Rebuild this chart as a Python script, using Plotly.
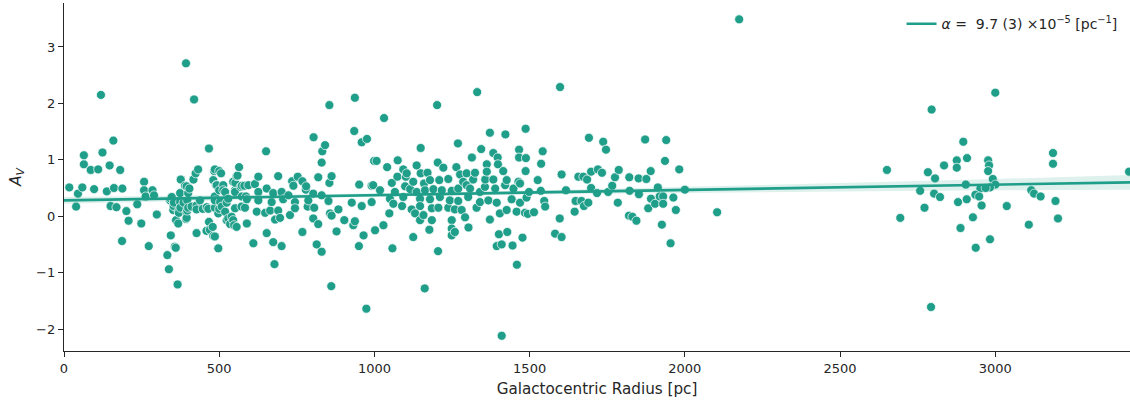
import plotly.graph_objects as go

# ---------------- data ----------------
r_inner = [17, 39, 45, 59, 64, 64, 86, 97, 110, 119, 124, 138, 147, 150, 159, 161, 169, 181, 188, 201,
           208, 187, 236, 249, 258, 258, 263, 273, 285, 290, 299, 333, 338, 342, 344, 344, 347, 352, 353, 354,
           357, 360, 361, 366, 368, 369, 370, 374, 374, 375, 376, 385, 390, 393, 393, 395, 395, 395, 397, 397,
           400, 400, 404, 411, 417, 419, 424, 427, 427, 427, 432, 438, 447, 459, 460, 465, 467, 467, 470, 479,
           481, 481, 484, 486, 486, 486, 486, 486, 490, 492, 497, 497, 500, 500, 500]
av_inner = [0.51, 0.17, 0.40, 0.51, 0.92, 1.08, 0.82, 0.48, 0.83, 2.15, 1.13, 0.44, 0.90, 0.18, 1.34, 0.50, 0.16, 0.82, 0.49, 0.09,
            -0.08, -0.44, 0.21, -0.13, 0.61, 0.46, 0.35, -0.53, 0.46, 0.37, 0.03, -0.69, -0.94, 0.28, -0.34, 0.31, 0.34, 0.11, 0.18, 0.24,
            -0.54, -0.56, -0.07, -1.21, -0.13, 0.09, 0.06, 0.41, 0.25, 0.15, 0.65, 0.24, 0.54, 2.71, -0.05, 0.53, 0.07, -0.03, 0.28, 0.10,
            0.41, 0.15, 0.49, 0.17, 0.65, 2.07, 0.76, 0.19, 0.12, -0.30, 0.83, 0.28, 0.13, -0.26, 0.16, 0.13, 1.20, -0.10, -0.24, -0.19,
            0.64, -0.35, 0.80, 0.83, 0.35, 0.15, 0.28, -0.36, 0.55, 0.55, -0.57, 0.05, 0.80, 0.46, 0.13]

r_mid1 = [503, 506, 508, 513, 513, 519, 519, 524, 524, 529, 529, 535, 540, 545, 545, 548, 551, 551, 551, 552,
          556, 556, 559, 564, 569, 572, 573, 573, 581, 583, 586, 589, 589, 594, 610, 615, 621, 626, 626, 626,
          648, 651, 653, 653, 664, 669, 674, 674, 678, 680, 690, 690, 696, 701, 701, 706, 723, 728, 735, 739,
          744, 744, 753, 768, 768, 779, 780, 785, 787, 803, 803, 804, 806, 814, 819, 819, 830, 830, 830, 832,
          841, 852, 855, 855, 857, 861, 862, 862, 878, 884, 903, 927, 932, 935, 937, 937, 950, 951, 959, 959,
          965, 974, 976, 991, 991, 996, 999]
av_mid1 = [0.25, 0.76, 0.17, 0.55, 0.46, 0.43, 0.08, 0.24, -0.07, 0.31, -0.04, -0.14, -0.01, 0.61, -0.07, -0.16, 0.46, 0.14, 0.43, 0.59,
           0.71, -0.19, 0.72, 0.87, 0.52, 0.17, 0.54, 0.35, 0.54, 0.15, 0.35, 0.30, -0.13, 0.55, -0.48, 0.57, 0.08, 0.70, 0.43, 0.28,
           0.06, 1.15, 0.49, -0.30, 0.10, 0.25, 0.41, -0.46, -0.85, -0.06, 0.71, 0.10, -0.03, 0.43, -0.53, 0.30, 0.37, 0.02, 0.62, 0.54,
           0.25, 0.14, 0.70, 0.62, -0.28, 0.47, 0.53, 0.17, 0.28, 0.40, -0.04, 1.40, 0.15, -0.50, 0.69, -0.14, 0.95, 0.37, -0.63, 1.15,
           1.26, 0.27, 1.97, 0.59, 0.05, -1.24, 0.71, 0.01, -0.27, 0.12, -0.07, 0.24, -0.16, 1.51, 2.10, -0.09, -0.53, 0.56, 1.31, 0.18,
           -0.34, -1.64, 1.37, 0.54, 0.25, 0.55, 0.98]

r_mid2 = [1002, 1007, 1018, 1031, 1029, 1041, 1048, 1050, 1056, 1058, 1061, 1066, 1074, 1075, 1089, 1093, 1093, 1099, 1101, 1104,
          1115, 1120, 1125, 1125, 1131, 1136, 1136, 1147, 1147, 1147, 1149, 1149, 1158, 1160, 1162, 1163, 1171, 1177, 1179, 1179,
          1185, 1185, 1190, 1202, 1204, 1205, 1206, 1209, 1211, 1217, 1222, 1238, 1238, 1243, 1249, 1249, 1249, 1249, 1259, 1259,
          1264, 1269, 1270, 1270, 1276, 1281, 1286, 1292, 1297, 1297, 1302, 1303, 1308, 1314, 1318, 1324, 1329, 1331, 1340, 1340,
          1344, 1356, 1357, 1362, 1362, 1367, 1372, 1372, 1383, 1383, 1389, 1394, 1394, 1397, 1398, 1401, 1404, 1410, 1410, 1415,
          1421, 1422, 1426, 1426, 1428, 1442, 1445, 1448, 1458, 1459, 1464, 1466, 1466, 1469, 1469, 1477, 1485, 1487, 1487, 1488,
          1490, 1494, 1498]
av_mid2 = [-0.25, 0.98, 0.46, 1.74, -0.16, 0.87, 0.05, 0.31, 0.59, -0.57, 0.22, 0.43, 0.70, 0.99, 0.18, 0.83, 0.34, 0.53, 0.70, 0.76,
           0.48, 0.12, 0.61, -0.37, 0.05, 0.90, 0.43, 0.31, 0.18, -0.07, 1.21, 0.76, 0.02, 0.58, -1.28, 0.46, 0.77, -0.24, 0.64, 0.30,
           0.14, -0.07, 0.48, 1.97, 0.95, -0.62, 0.15, 0.64, 0.34, 0.46, 0.86, 0.66, 0.15, 0.28, 0.45, -0.07, -0.22, -0.34, 0.12, -0.28,
           0.87, 1.29, 0.49, 0.27, 0.74, 0.11, 0.61, -0.02, 0.76, 0.55, 0.34, -0.20, 0.49, 1.04, 0.65, 0.77, 0.15, 2.20, 0.43, 0.25,
           1.19, 0.52, 0.65, 0.92, 0.79, 0.28, 1.48, -0.06, 1.12, 0.65, 0.49, 0.24, -0.53, 1.04, 0.92, -0.32, 0.05, -0.50, -2.12, 0.80,
           0.55, 1.45, 0.64, 0.11, -0.28, 0.30, -0.52, 0.49, 0.08, -0.86, 0.61, 1.18, 1.04, 0.58, 0.24, -0.38, 0.06, 1.55, 0.80, 1.03,
           0.33, 0.04, 0.43]

r_mid3 = [1514, 1526, 1536, 1537, 1542, 1547, 1550, 1582, 1597, 1598, 1603, 1603, 1617, 1645, 1648, 1657, 1667, 1673, 1675, 1685,
          1689, 1691, 1698, 1698, 1717, 1720, 1733, 1737, 1746, 1753, 1766, 1775, 1784, 1787, 1820, 1821, 1822, 1831, 1844, 1851,
          1852, 1872, 1876, 1882, 1890, 1891, 1904, 1913, 1919, 1926, 1930, 1930, 1936, 1940, 1954, 1963, 1971, 1982, 2000, 2104,
          2175]
av_mid3 = [0.07, 0.64, 0.45, 0.93, 1.15, 0.27, 0.17, -0.31, -0.04, 2.29, 0.74, -0.37, 0.46, 0.08, 0.27, 0.70, 0.27, 0.70, 0.18, 0.65,
           0.24, 1.39, 0.79, 0.50, 0.41, 0.83, 0.77, 1.32, 1.18, 0.43, 0.54, 0.69, 0.24, 0.82, 0.01, 0.69, 0.45, -0.01, -0.08, 0.67,
           0.39, 1.36, 0.66, 0.14, 0.80, 0.31, 0.22, 0.51, 0.35, -0.15, 0.35, 0.22, 0.98, 1.35, -0.48, 0.33, 0.11, 0.83, 0.47, 0.07,
           3.49]

r_outer = [3000, 2795, 2897, 2651, 3186, 3186, 2783, 2835, 2876, 2876, 2909, 2977, 2980, 2977, 2992, 2806, 2905, 3000, 2983, 2952,
           2969, 2758, 2803, 2822, 2936, 2948, 2908, 2880, 2956, 3037, 3116, 3125, 3146, 3194, 2772, 2694, 2928, 3202, 3108, 2888,
           2983, 2937, 2793, 3431]
av_outer = [2.19, 1.89, 1.32, 0.82, 1.12, 0.93, 0.78, 0.90, 0.99, 0.86, 1.03, 0.99, 0.90, 0.80, 0.66, 0.67, 0.56, 0.56, 0.51, 0.49,
            0.50, 0.45, 0.40, 0.34, 0.38, 0.35, 0.30, 0.25, 0.19, 0.18, 0.46, 0.40, 0.35, 0.27, 0.15, -0.03, -0.02, -0.04, -0.15, -0.21,
            -0.41, -0.56, -1.61, 0.79]

# regression line and its confidence band
fit_intercept = 0.28
fit_slope = 9.3e-5
ci_x = [0, 500, 1000, 1500, 2000, 2500, 3000, 3434]
ci_half = [0.06, 0.04, 0.03, 0.035, 0.05, 0.075, 0.10, 0.13]

legend_label = "<i>α</i> =  9.7 (3) ×10<sup>−5</sup> [pc<sup>−1</sup>]"

# ---------------- figure ----------------
COLOR = "#1f9e89"
radius = r_inner + r_mid1 + r_mid2 + r_mid3 + r_outer
av = av_inner + av_mid1 + av_mid2 + av_mid3 + av_outer

fit_y = [fit_intercept + fit_slope * x for x in ci_x]
upper = [y + h for y, h in zip(fit_y, ci_half)]
lower = [y - h for y, h in zip(fit_y, ci_half)]

fig = go.Figure()
fig.add_trace(go.Scatter(
    x=radius, y=av, mode="markers", showlegend=False,
    marker=dict(size=9, color=COLOR, line=dict(color="rgba(255,255,255,0.7)", width=1)),
))
fig.add_trace(go.Scatter(x=ci_x, y=upper, mode="lines", line=dict(width=0), showlegend=False, hoverinfo="skip"))
fig.add_trace(go.Scatter(x=ci_x, y=lower, mode="lines", line=dict(width=0), fill="tonexty",
                         fillcolor="rgba(31,158,137,0.15)", showlegend=False, hoverinfo="skip"))
fig.add_trace(go.Scatter(x=ci_x, y=fit_y, mode="lines", name=legend_label,
                         line=dict(color=COLOR, width=2.6)))

font_family = "DejaVu Sans, sans-serif"
fig.update_layout(
    width=1130, height=402,
    margin=dict(l=64, r=0, t=3, b=51),
    paper_bgcolor="white", plot_bgcolor="white",
    font=dict(family=font_family, size=13, color="#262626"),
    showlegend=True,
    legend=dict(x=0.993, y=0.985, xanchor="right", yanchor="top", bgcolor="rgba(255,255,255,0)",
                font=dict(size=14, color="#262626")),
    xaxis=dict(
        range=[0, 3434], tickmode="array", tickvals=[0, 500, 1000, 1500, 2000, 2500, 3000],
        showgrid=False, zeroline=False, showline=True, linecolor="#262626", linewidth=1.25,
        ticks="outside", ticklen=5, tickwidth=1.25, tickcolor="#262626",
        title=dict(text="Galactocentric Radius [pc]", font=dict(size=15.2), standoff=8),
    ),
    yaxis=dict(
        range=[-2.39, 3.78], tickmode="array", tickvals=[-2, -1, 0, 1, 2, 3],
        showgrid=False, zeroline=False, showline=True, linecolor="#262626", linewidth=1.25,
        ticks="outside", ticklen=5, tickwidth=1.25, tickcolor="#262626",
        title=dict(text="<i>A</i><sub><i>V</i></sub>", font=dict(size=15.5), standoff=10),
    ),
)

fig.write_html("out.html")
